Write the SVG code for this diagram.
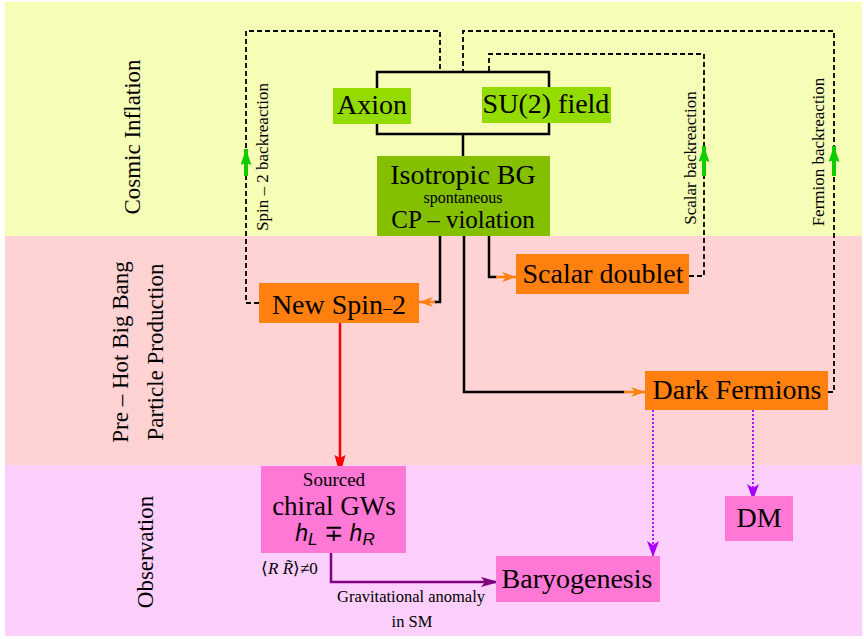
<svg xmlns="http://www.w3.org/2000/svg" width="864" height="639" viewBox="0 0 864 639">
<defs>
<style>
.serif{font-family:"Liberation Serif","Times New Roman",serif;fill:#000}
.band{font-size:23px}
.nt{font-size:28px;text-anchor:middle}
.br{font-size:17px;text-anchor:middle}
.blk{fill:none;stroke:#000;stroke-width:2.5}
.dash{fill:none;stroke:#000;stroke-width:1.8;stroke-dasharray:5,3}
.org{fill:none;stroke:#FF7F0F;stroke-width:2.5}
.grn{fill:none;stroke:#11CC00;stroke-width:4}
.vio{fill:none;stroke:#AA00FF;stroke-width:1.8;stroke-dasharray:2,2}
</style>
<marker id="ahO" markerUnits="userSpaceOnUse" markerWidth="16" markerHeight="12" refX="14" refY="5" orient="auto"><path d="M0,0 L14,5 L0,10 L4,5 z" fill="#FF7F0F"/></marker>
<marker id="ahG" markerUnits="userSpaceOnUse" markerWidth="18" markerHeight="12" refX="16" refY="5.5" orient="auto"><path d="M0,0 L16,5.5 L0,11 L2,5.5 z" fill="#11CC00"/></marker>
<marker id="ahV" markerUnits="userSpaceOnUse" markerWidth="18" markerHeight="12" refX="16" refY="6" orient="auto"><path d="M0,0 L16,6 L0,12 L4,6 z" fill="#AA00FF"/></marker>
<marker id="ahR" markerUnits="userSpaceOnUse" markerWidth="22" markerHeight="12" refX="20" refY="5.5" orient="auto"><path d="M0,0 L20,5.5 L0,11 L3,5.5 z" fill="#FF0000"/></marker>
<marker id="ahP" markerUnits="userSpaceOnUse" markerWidth="20" markerHeight="12" refX="18" refY="5" orient="auto"><path d="M0,0 L18,5 L0,10 L4,5 z" fill="#800080"/></marker>
</defs>

<g id="bands">
<rect x="5" y="2" width="857" height="234" fill="#F5FDB7"/>
<rect x="5" y="236" width="857" height="229" fill="#FFD3D3"/>
<rect x="5" y="465" width="857" height="171" fill="#FCCFFC"/>
<text class="serif band" text-anchor="middle" transform="translate(140,137) rotate(-90)">Cosmic Inflation</text>
<text class="serif band" text-anchor="middle" transform="translate(128,352) rotate(-90)">Pre – Hot Big Bang</text>
<text class="serif band" text-anchor="middle" transform="translate(163,352) rotate(-90)">Particle Production</text>
<text class="serif band" text-anchor="middle" transform="translate(153,552) rotate(-90)">Observation</text>
</g>

<g id="connectors">
<rect class="blk" x="377" y="72" width="172" height="62"/>
<line class="blk" x1="463" y1="134" x2="463" y2="156"/>
<polyline class="blk" points="440,236 440,302 434,302"/>
<line class="org" x1="435" y1="302" x2="419" y2="302" marker-end="url(#ahO)"/>
<polyline class="blk" points="489,236 489,277 497,277"/>
<line class="org" x1="496" y1="277" x2="516" y2="277" marker-end="url(#ahO)"/>
<polyline class="blk" points="464,236 464,392 625,392"/>
<line class="org" x1="624" y1="392" x2="645" y2="392" marker-end="url(#ahO)"/>
<polyline class="dash" points="259,303 246,303 246,31 440,31 440,72"/>
<polyline class="dash" points="689,276 704,276 704,54 489,54 489,72"/>
<polyline class="dash" points="828,392 834,392 834,31 463,31 463,72"/>
<line class="grn" x1="246" y1="176" x2="246" y2="149" marker-end="url(#ahG)"/>
<line class="grn" x1="704" y1="176" x2="704" y2="146" marker-end="url(#ahG)"/>
<line class="grn" x1="834" y1="176" x2="834" y2="146" marker-end="url(#ahG)"/>
<text class="serif br" transform="translate(268,157) rotate(-90)">Spin – 2 backreaction</text>
<text class="serif br" transform="translate(696,158) rotate(-90)">Scalar backreaction</text>
<text class="serif br" transform="translate(824,152) rotate(-90)">Fermion backreaction</text>
<line x1="340" y1="323" x2="340" y2="475" stroke="#FF0000" stroke-width="2.5" marker-end="url(#ahR)"/>
<polyline points="331,553 331,582 499,582" fill="none" stroke="#800080" stroke-width="2.5" marker-end="url(#ahP)"/>
<text class="serif" font-size="16.5" text-anchor="middle" x="411" y="602">Gravitational anomaly</text>
<text class="serif" font-size="16.5" text-anchor="middle" x="412" y="627">in SM</text>
<line class="vio" x1="653" y1="410" x2="653" y2="557" marker-end="url(#ahV)"/>
<line class="vio" x1="753" y1="410" x2="753" y2="500" marker-end="url(#ahV)"/>
</g>

<g id="axion">
<rect x="333" y="88" width="78" height="36" fill="#93DB00"/>
<text class="serif nt" x="372" y="114">Axion</text>
</g>
<g id="su2">
<rect x="482" y="87" width="129" height="36" fill="#93DB00"/>
<text class="serif nt" x="546" y="113">SU(2) field</text>
</g>
<g id="isotropic">
<rect x="377" y="156" width="173" height="80" fill="#84BF00"/>
<text class="serif nt" x="463" y="184">Isotropic BG</text>
<text class="serif" font-size="16" text-anchor="middle" x="463" y="203">spontaneous</text>
<text class="serif" font-size="25" text-anchor="middle" x="463" y="228">CP – violation</text>
</g>
<g id="spin2">
<rect x="259" y="283" width="160" height="40" fill="#FF7F0F"/>
<text class="serif nt" x="339" y="314">New Spin<tspan font-size="18">–</tspan>2</text>
</g>
<g id="scalar">
<rect x="516" y="254" width="173" height="40" fill="#FF7F0F"/>
<text class="serif nt" x="603" y="283">Scalar doublet</text>
</g>
<g id="fermions">
<rect x="645" y="371" width="183" height="39" fill="#FF7F0F"/>
<text class="serif nt" x="737" y="399">Dark Fermions</text>
</g>
<g id="gws">
<rect x="261" y="466" width="145" height="87" fill="#FF78D6"/>
<text class="serif" font-size="19" text-anchor="middle" x="334" y="486">Sourced</text>
<text class="serif" font-size="27" text-anchor="middle" x="334" y="515">chiral GWs</text>
<text x="335" y="541" text-anchor="middle" font-family="'Liberation Sans','DejaVu Sans',sans-serif" font-style="italic" font-size="23">h<tspan font-size="17" dy="4">L</tspan><tspan dy="-4"> ∓ h</tspan><tspan font-size="17" dy="4">R</tspan></text>
<text class="serif" font-size="17" x="261" y="574">⟨<tspan font-style="italic">R R̃</tspan>⟩≠0</text>
</g>
<g id="baryogenesis">
<rect x="496" y="556" width="164" height="46" fill="#FF78D6"/>
<text class="serif nt" x="577" y="588">Baryogenesis</text>
</g>
<g id="dm">
<rect x="725" y="496" width="68" height="45" fill="#FF78D6"/>
<text class="serif nt" x="759" y="527">DM</text>
</g>
</svg>
